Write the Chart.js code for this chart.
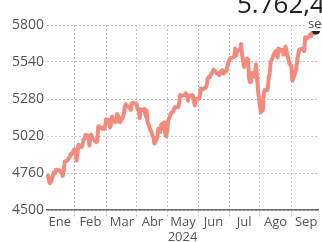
<!DOCTYPE html>
<html>
<head>
<meta charset="utf-8">
<script src="https://cdn.jsdelivr.net/npm/chart.js@4.4.1/dist/chart.umd.min.js"></script>
<style>
  html, body { margin: 0; padding: 0; background: #fff; overflow: hidden; }
  #wrap { position: relative; width: 322px; height: 242px; }
  canvas { position: absolute; left: 0; top: 0; }
  .big { position: absolute; left: 237px; top: -13px; font-family: 'Open Sans', sans-serif; font-size: 26px; color: #222; white-space: nowrap; line-height: 32px; }
  .sub { position: absolute; left: 306px; top: 16px; font-family: 'Open Sans', sans-serif; font-size: 13px; color: #444; white-space: nowrap; background: #fff; padding-left: 2px; line-height: 15px; }
</style>
</head>
<body>
<div id="wrap">
  <canvas id="c" width="322" height="242"></canvas>
  <div class="big">5.762,48</div>
  <div class="sub">sep 30</div>
</div>
<script>
// ---- data (S&P 500 style index, 2024 daily closes) ----
const dates = [
 "01-02","01-03","01-04","01-05","01-08","01-09","01-10","01-11","01-12","01-16","01-17","01-18","01-19","01-22","01-23","01-24","01-25","01-26","01-29","01-30","01-31",
 "02-01","02-02","02-05","02-06","02-07","02-08","02-09","02-12","02-13","02-14","02-15","02-16","02-20","02-21","02-22","02-23","02-26","02-27","02-28","02-29",
 "03-01","03-04","03-05","03-06","03-07","03-08","03-11","03-12","03-13","03-14","03-15","03-18","03-19","03-20","03-21","03-22","03-25","03-26","03-27","03-28",
 "04-01","04-02","04-03","04-04","04-05","04-08","04-09","04-10","04-11","04-12","04-15","04-16","04-17","04-18","04-19","04-22","04-23","04-24","04-25","04-26","04-29","04-30",
 "05-01","05-02","05-03","05-06","05-07","05-08","05-09","05-10","05-13","05-14","05-15","05-16","05-17","05-20","05-21","05-22","05-23","05-24","05-28","05-29","05-30","05-31",
 "06-03","06-04","06-05","06-06","06-07","06-10","06-11","06-12","06-13","06-14","06-17","06-18","06-20","06-21","06-24","06-25","06-26","06-27","06-28",
 "07-01","07-02","07-03","07-05","07-08","07-09","07-10","07-11","07-12","07-15","07-16","07-17","07-18","07-19","07-22","07-23","07-24","07-25","07-26","07-29","07-30","07-31",
 "08-01","08-02","08-05","08-06","08-07","08-08","08-09","08-12","08-13","08-14","08-15","08-16","08-19","08-20","08-21","08-22","08-23","08-26","08-27","08-28","08-29","08-30",
 "09-03","09-04","09-05","09-06","09-09","09-10","09-11","09-12","09-13","09-16","09-17","09-18","09-19","09-20","09-23","09-24","09-25","09-26","09-27","09-30"
];
const closes = [
 4742,4705,4689,4697,4764,4757,4783,4780,4784,4766,4739,4781,4840,4850,4865,4869,4894,4891,4928,4925,4846,
 4906,4959,4943,4954,4995,4998,5027,5022,4953,5001,5030,5006,4976,4982,5087,5089,5070,5078,5070,5096,
 5137,5131,5079,5105,5157,5124,5118,5175,5165,5150,5117,5149,5179,5225,5242,5234,5218,5204,5248,5254,
 5244,5206,5211,5147,5204,5202,5210,5161,5199,5123,5062,5051,5022,5011,4967,5011,5071,5072,5048,5100,5116,5036,
 5018,5064,5128,5181,5188,5188,5214,5223,5221,5247,5308,5297,5303,5308,5321,5307,5268,5305,5306,5267,5235,5278,
 5283,5291,5354,5353,5347,5361,5375,5421,5434,5432,5473,5487,5473,5465,5448,5469,5478,5483,5460,
 5475,5509,5537,5567,5573,5577,5634,5585,5615,5631,5667,5588,5545,5505,5564,5556,5427,5399,5459,5464,5436,5522,
 5447,5347,5186,5240,5200,5319,5344,5344,5434,5455,5543,5554,5608,5597,5621,5571,5635,5617,5626,5592,5592,5648,
 5529,5520,5503,5408,5471,5496,5554,5596,5626,5633,5635,5618,5714,5703,5719,5733,5722,5745,5738,5762
];
const monthLabels = ["Ene","Feb","Mar","Abr","May","Jun","Jul","Ago","Sep"];
const monthLabelDays = [13, 44, 76, 107, 138, 169, 200, 232, 263];
const monthGridDays = [28, 60, 91, 122, 154, 185, 216, 248];
const yTicks = [4500, 4760, 5020, 5280, 5540, 5800];
const yearLabel = "2024";

function dayOfYear(md) {
  const [m, d] = md.split("-").map(Number);
  return Math.round((Date.UTC(2024, m - 1, d) - Date.UTC(2024, 0, 1)) / 86400000);
}
const points = dates.map((d, i) => ({ x: dayOfYear(d), y: closes[i] }));
const lastIdx = points.length - 1;

Chart.defaults.font.family = "'Open Sans', sans-serif";
Chart.defaults.color = '#555';

const gridCol = '#c4c4c4';
new Chart(document.getElementById('c'), {
  type: 'line',
  data: {
    datasets: [{
      data: points,
      borderColor: '#f28b7e',
      borderWidth: 4,
      borderJoinStyle: 'round',
      borderCapStyle: 'round',
      tension: 0,
      pointRadius: ctx => ctx.dataIndex === lastIdx ? 4 : 0,
      pointBackgroundColor: '#222',
      pointBorderWidth: 0,
      clip: false
    }]
  },
  options: {
    responsive: false,
    animation: false,
    events: [],
    layout: { padding: { top: 25, left: 0, right: 0, bottom: 0 } },
    plugins: { legend: { display: false }, tooltip: { enabled: false } },
    scales: {
      x: {
        type: 'linear',
        min: 0, max: 275,
        afterBuildTicks: s => {
          s.ticks = monthGridDays.concat(monthLabelDays).sort((a, b) => a - b).map(v => ({ value: v }));
        },
        afterFit: s => { s.height = 32; },
        ticks: {
          autoSkip: false, maxRotation: 0, padding: -3,
          font: { size: 13 }, color: '#555',
          callback: v => { const i = monthLabelDays.indexOf(v); return i >= 0 ? monthLabels[i] : ''; }
        },
        grid: {
          color: c => (c.tick && monthGridDays.includes(c.tick.value)) ? gridCol : 'rgba(0,0,0,0)',
          tickColor: c => (c.tick && monthGridDays.includes(c.tick.value)) ? gridCol : 'rgba(0,0,0,0)',
          tickLength: 7,
          tickBorderDash: [2, 2],
          lineWidth: 1
        },
        border: { display: true, color: '#666', width: 1.5, dash: [2, 2] },
        title: { display: true, text: yearLabel, font: { size: 13 }, color: '#555', padding: { top: 0, bottom: -3 } }
      },
      y: {
        min: 4500, max: 5800,
        afterBuildTicks: s => { s.ticks = yTicks.map(v => ({ value: v })); },
        afterFit: s => { s.width = 47; },
        ticks: { padding: 3, font: { size: 14 }, color: '#555', callback: v => String(v) },
        grid: { color: gridCol, drawTicks: false, lineWidth: 1 },
        border: { display: false, dash: [2, 2] }
      }
    }
  }
});
</script>
</body>
</html>
